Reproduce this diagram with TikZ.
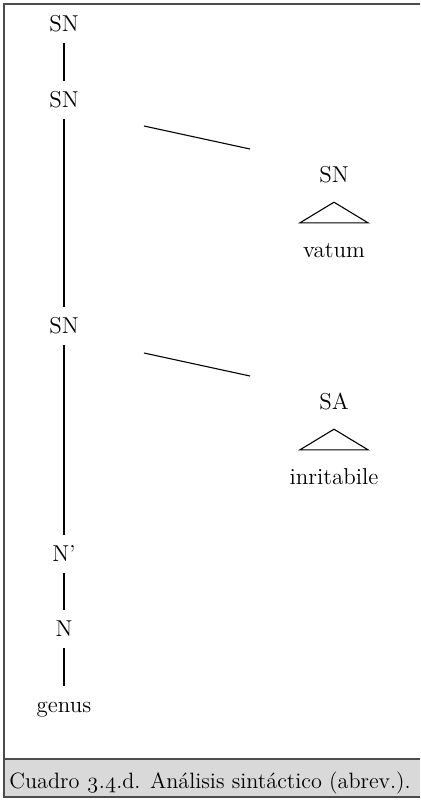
\documentclass[tikz,border=0pt]{standalone}
\usepackage{fontspec}
\setmainfont{Latin Modern Roman}[Numbers=OldStyle]
\usepackage{tikz}

\begin{document}
\begin{tikzpicture}[
  x=0.5pt, y=-0.5pt,
  cat/.style={inner xsep=2pt, inner ysep=5.5pt, text height=7.8pt, text depth=0pt, font=\fontsize{11.5}{13}\selectfont},
  branch/.style={line width=0.55pt},
  roof/.style={line width=0.55pt},
  frame/.style={draw=black!70, line width=0.8pt}
]
\useasboundingbox (0,0) rectangle (420,800);
\fill[black!15] (4,759) rectangle (420,797);
\draw[frame] (420,4) -- (4,4) -- (4,797) -- (420,797);
\draw[frame] (4,759) -- (420,759);
\node[anchor=base west, inner sep=0pt, font=\fontsize{11.1}{13}\selectfont] (caption) at (9,788) {Cuadro 3.4.d. Análisis sintáctico (abrev.).};

\node[cat] (sn-top) at (64,24) {SN};
\node[cat] (sn-mid) at (64,100) {SN};
\node[cat] (sn-low) at (64,326) {SN};
\node[cat] (nbar) at (64,554) {N’};
\node[cat] (noun) at (64,629) {N};
\node[cat] (genus) at (64,705) {genus};

\node[cat] (sn-right) at (334,175) {SN};
\node[cat] (vatum) at (334,250) {vatum};
\node[cat] (sa-right) at (334,402) {SA};
\node[cat] (inritabile) at (334,477) {inritabile};

\coordinate (arm-a1) at (144,126);
\coordinate (arm-a2) at (250,149);
\coordinate (arm-b1) at (144,353);
\coordinate (arm-b2) at (250,376);

\draw[branch] (sn-top) -- (sn-mid);
\draw[branch] (sn-mid) -- (sn-low);
\draw[branch] (sn-low) -- (nbar);
\draw[branch] (nbar) -- (noun);
\draw[branch] (noun) -- (genus);
\draw[branch] (arm-a1) -- (arm-a2);
\draw[branch] (arm-b1) -- (arm-b2);

\draw[roof] ([yshift=-4pt]sn-right.south) -- ([xshift=-17pt,yshift=4pt]vatum.north) -- ([xshift=17pt,yshift=4pt]vatum.north) -- cycle;
\draw[roof] ([yshift=-4pt]sa-right.south) -- ([xshift=-17pt,yshift=4pt]inritabile.north) -- ([xshift=17pt,yshift=4pt]inritabile.north) -- cycle;
\end{tikzpicture}
\end{document}
